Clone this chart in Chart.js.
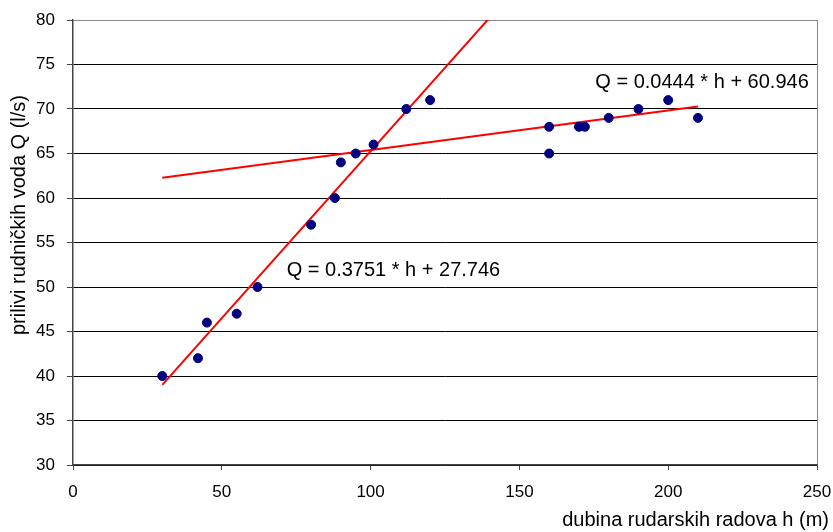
<!DOCTYPE html>
<html>
<head>
<meta charset="utf-8">
<title>Prilivi rudničkih voda</title>
<script src="https://cdn.jsdelivr.net/npm/chart.js@4.4.0/dist/chart.umd.min.js"></script>
<style>
    html, body { margin: 0; padding: 0; background: #fff; }
    #wrap { width: 833px; height: 532px; }
</style>
</head>
<body>
<div id="wrap"><canvas id="chart" width="833" height="532"></canvas></div>
<script>
// ================================
// Data
// ================================

// depth h (m) and inflow Q (l/s)
const depthH = [30, 42, 45, 55, 62, 80, 88, 90, 95, 101, 112, 120, 160, 160, 170, 172, 180, 190, 200, 210];
const inflowQ = [40, 42, 46, 47, 50, 57, 60, 64, 65, 66, 70, 71, 68, 65, 68, 68, 69, 70, 71, 69];

// trendlines: Q = slope * h + intercept, drawn over [fromH, toH]
const trendSlope = [0.3751, 0.0444];
const trendIntercept = [27.746, 60.946];
const trendFrom = [30, 30];
const trendTo = [140, 210];
const trendLabels = ['Q = 0.3751 * h + 27.746', 'Q = 0.0444 * h + 60.946'];

const xTicks = [0, 50, 100, 150, 200, 250];
const yTicks = [30, 35, 40, 45, 50, 55, 60, 65, 70, 75, 80];

const xTitle = 'dubina rudarskih radova h (m)';
const yTitle = 'prilivi rudničkih voda Q (l/s)';

const FONT = "'Liberation Sans', Arial, sans-serif";

// points for the chart
const points = depthH.map((h, i) => ({ x: h, y: inflowQ[i] }));

function trendLine(i) {
    return [trendFrom[i], trendTo[i]].map(h => ({ x: h, y: trendSlope[i] * h + trendIntercept[i] }));
}

// Equation labels + axis titles
const textPlugin = {
    id: 'texts',
    afterDraw(chart) {
        const c = chart.ctx;
        const xs = chart.scales.x;
        const ys = chart.scales.y;
        c.save();
        c.fillStyle = '#000';
        c.font = '20px ' + FONT;
        c.textBaseline = 'middle';
        c.textAlign = 'left';
        // label anchors (data units)
        c.fillText(trendLabels[0], xs.getPixelForValue(71.8), ys.getPixelForValue(51.8));
        c.fillText(trendLabels[1], xs.getPixelForValue(175.5), ys.getPixelForValue(73.0));

        // x title, right aligned under the axis
        c.textAlign = 'right';
        c.fillText(xTitle, 829, 520);

        // y title
        c.translate(19, 215);
        c.rotate(-Math.PI / 2);
        c.textAlign = 'center';
        c.fillText(yTitle, 0, 0);
        c.restore();
    }
};

const ctx = document.getElementById('chart').getContext('2d');

new Chart(ctx, {
    type: 'scatter',
    data: {
        datasets: [
            {
                label: 'Q',
                data: points,
                backgroundColor: '#000080',
                borderColor: '#000080',
                pointRadius: 4.5,
                pointHoverRadius: 4.5,
                order: 0
            },
            {
                label: 'trend1',
                data: trendLine(0),
                showLine: true,
                borderColor: '#ff0000',
                borderWidth: 2,
                pointRadius: 0,
                order: 1
            },
            {
                label: 'trend2',
                data: trendLine(1),
                showLine: true,
                borderColor: '#ff0000',
                borderWidth: 2,
                pointRadius: 0,
                order: 1
            }
        ]
    },
    options: {
        responsive: false,
        animation: false,
        layout: { padding: { top: 20, right: 16, left: 0, bottom: 0 } },
        plugins: {
            legend: { display: false },
            tooltip: { enabled: false }
        },
        scales: {
            x: {
                type: 'linear',
                min: 0,
                max: 250,
                afterBuildTicks: s => { s.ticks = xTicks.map(v => ({ value: v })); },
                afterFit: s => { s.height = 67; s.paddingLeft = 0; s.paddingRight = 0; },
                ticks: {
                    color: '#000',
                    font: { family: FONT, size: 17 },
                    padding: 12,
                    maxRotation: 0
                },
                grid: {
                    drawOnChartArea: true,
                    color: c => (c.tick && c.tick.value === 250) ? '#888' : 'rgba(0,0,0,0)',
                    tickColor: '#444',
                    tickLength: 5
                },
                border: { color: '#444', width: 1.5 }
            },
            y: {
                type: 'linear',
                min: 30,
                max: 80,
                afterBuildTicks: s => { s.ticks = yTicks.map(v => ({ value: v })); },
                afterFit: s => { s.width = 73; s.paddingTop = 0; s.paddingBottom = 0; },
                ticks: {
                    color: '#000',
                    font: { family: FONT, size: 17 },
                    padding: 12
                },
                grid: {
                    color: c => (c.tick && c.tick.value === 80) ? '#888' : '#000',
                    lineWidth: 1,
                    tickColor: '#444',
                    tickLength: 6
                },
                border: { color: '#444', width: 1.5 }
            }
        }
    },
    plugins: [textPlugin]
});
</script>
</body>
</html>
